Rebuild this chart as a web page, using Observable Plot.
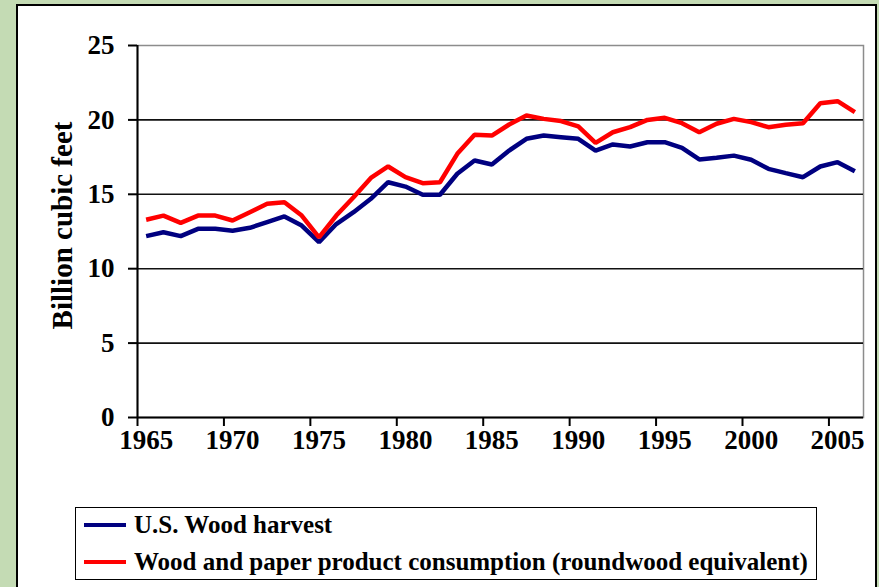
<!DOCTYPE html>
<html>
<head>
<meta charset="utf-8">
<script src="https://cdn.jsdelivr.net/npm/d3@7"></script>
<script src="https://cdn.jsdelivr.net/npm/@observablehq/plot@0.6"></script>
<style>
  html, body { margin: 0; padding: 0; }
  body { width: 879px; height: 587px; overflow: hidden; position: relative;
         background: #c4dbb4; font-family: "Liberation Serif", "Times New Roman", serif; }
  #panel { position: absolute; left: 16px; top: 4px; width: 861px; height: 600px;
           background: #fff; border: 2px solid #000; box-sizing: border-box; }
  #chart { position: absolute; left: 0; top: 0; }
  #legend { position: absolute; left: 75px; top: 507px; width: 742px; height: 73px;
            border: 1.5px solid #000; box-sizing: border-box; background: #fff;
            font-weight: bold; font-size: 25px; color: #000;
            font-family: "Liberation Serif", "Times New Roman", serif; }
  .item { position: absolute; left: 8px; display: flex; align-items: center; white-space: nowrap; }
  .sw { width: 42px; height: 4px; margin-right: 8px; }
</style>
</head>
<body>
<div id="panel"></div>
<div id="chart"></div>
<div id="legend"></div>
<script>
const years = [1965,1966,1967,1968,1969,1970,1971,1972,1973,1974,
               1975,1976,1977,1978,1979,1980,1981,1982,1983,1984,
               1985,1986,1987,1988,1989,1990,1991,1992,1993,1994,
               1995,1996,1997,1998,1999,2000,2001,2002,2003,2004,
               2005,2006];
const harvest = [12.19,12.45,12.19,12.68,12.68,12.55,12.75,13.13,13.51,12.9,
                 11.78,13.0,13.8,14.7,15.81,15.52,14.97,14.97,16.38,17.27,
                 17.0,17.94,18.73,18.95,18.84,18.73,17.94,18.35,18.21,18.5,
                 18.5,18.12,17.34,17.45,17.6,17.32,16.71,16.42,16.15,16.87,
                 17.16,16.55];
const consumption = [13.29,13.57,13.08,13.57,13.57,13.24,13.8,14.36,14.47,13.57,
                     12.1,13.57,14.8,16.1,16.87,16.15,15.75,15.81,17.72,19.0,
                     18.95,19.69,20.3,20.07,19.92,19.56,18.46,19.17,19.51,20.0,
                     20.14,19.78,19.17,19.74,20.07,19.85,19.51,19.67,19.78,21.12,
                     21.26,20.52];
const seriesNames = ["U.S. Wood harvest", "Wood and paper product consumption (roundwood equivalent)"];
const seriesColors = ["#000080", "#ff0000"];
const yTicks = [0, 5, 10, 15, 20, 25];
const xLabels = [1965, 1970, 1975, 1980, 1985, 1990, 1995, 2000, 2005];
const yTitle = "Billion cubic feet";

const rows = [];
years.forEach((yr, i) => {
  rows.push({year: yr, value: harvest[i], series: seriesNames[0]});
  rows.push({year: yr, value: consumption[i], series: seriesNames[1]});
});
// Category axis: tick marks fall between categories
const xTickMarks = xLabels.map(y => y - 0.5);
const gridVals = yTicks.filter(v => v > 0 && v < 25);

const chart = Plot.plot({
  width: 879,
  height: 470,
  marginLeft: 137,
  marginTop: 45,
  marginRight: 16,
  marginBottom: 53,
  x: {domain: [years[0] - 0.5, years[years.length - 1] + 0.5]},
  y: {domain: [0, 25]},
  color: {domain: seriesNames, range: seriesColors},
  style: {background: "transparent", fontFamily: "'Liberation Serif', 'Times New Roman', serif",
          fontWeight: "bold", color: "#000", overflow: "visible"},
  marks: [
    Plot.frame({stroke: "#8c8c8c", strokeWidth: 1.5}),
    Plot.ruleY(gridVals, {stroke: "#111", strokeWidth: 1.6}),
    Plot.axisY({ticks: yTicks, tickSize: 9, tickPadding: 14, fontSize: 27, label: null,
                strokeWidth: 2, tickFormat: d => String(d)}),
    Plot.axisX({ticks: xTickMarks, tickSize: 9, tickFormat: () => "", label: null, strokeWidth: 2}),
    Plot.axisX({ticks: xLabels, tickSize: 0, tickPadding: 12, fontSize: 27, label: null,
                tickFormat: d => String(d)}),
    Plot.ruleX([years[0] - 0.5], {stroke: "#000", strokeWidth: 2}),
    Plot.ruleY([0], {stroke: "#000", strokeWidth: 2}),
    Plot.line(rows, {x: "year", y: "value", z: "series", stroke: "series", strokeWidth: 4.5,
                     strokeLinejoin: "miter", strokeLinecap: "butt"}),
    Plot.text([yTitle], {frameAnchor: "left", text: d => d, rotate: -90, dx: -75, dy: -6,
                         textAnchor: "middle", fontSize: 29, fontWeight: "bold", fill: "#000"})
  ]
});
document.getElementById("chart").appendChild(chart);

const legend = document.getElementById("legend");
seriesNames.forEach((name, i) => {
  const item = document.createElement("div");
  item.className = "item";
  item.style.top = (i === 0 ? 0 : 37) + "px";
  item.style.height = "34px";
  const sw = document.createElement("span");
  sw.className = "sw";
  sw.style.background = seriesColors[i];
  const t = document.createElement("span");
  t.textContent = name;
  item.appendChild(sw);
  item.appendChild(t);
  legend.appendChild(item);
});
</script>
</body>
</html>
